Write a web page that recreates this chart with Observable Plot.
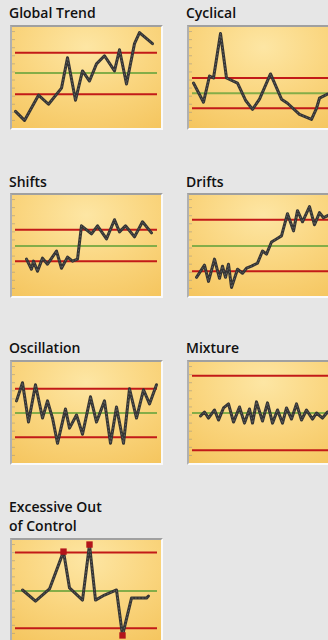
<!DOCTYPE html>
<html><head><meta charset="utf-8">
<script src="https://cdn.jsdelivr.net/npm/d3@7"></script>
<script src="https://cdn.jsdelivr.net/npm/@observablehq/plot@0.6"></script>
<style>
html,body{margin:0;padding:0;width:328px;height:640px;overflow:hidden;background:#e6e6e6;}
body{position:relative;font-family:"Open Sans",sans-serif;}
.title{position:absolute;font-size:14px;font-weight:600;color:#111;line-height:19px;white-space:nowrap;}
.panel{position:absolute;width:149px;height:101px;border-style:solid;border-width:2px;border-color:#a0a0a0 #fafafa #fafafa #b0b0b0;
background:radial-gradient(ellipse 85% 95% at 50% 20%, #fde6a4 0%, #fad680 50%, #f5c660 100%);}
.panel svg{display:block;}
</style>
</head><body>
<script>
// ---- data ----
const titles = ["Global Trend", "Cyclical", "Shifts", "Drifts", "Oscillation", "Mixture", "Excessive Out\nof Control"];

const globalX = [3,12,26,36,49,55,63,70,77,84,92,102,107,114,122,127,140];
const globalY = [17,8,33,24,40,70,28,57,47,64,72,57,78,44,84,95,84];
const globalLimits = [75,55,34];

const cyclicalX = [4,14,20,24,31,37,48,56,63,70,81,92,98,110,122,127,130,138,144,148];
const cyclicalY = [45,26,52,50,94,50,45,28,19,29,54,29,25,14,9,20,30,34,36,33];
const cyclicalLimits = [50,35,20];

const shiftsX = [14,19,21,25,30,35,44,49,55,60,65,69,74,79,85,94,102,107,113,122,130,139];
const shiftsY = [37,27,35,25,38,32,45,28,39,35,37,70,66,62,70,57,76,64,70,59,74,63];
const shiftsLimits = [66,50,35];

const driftsX = [7,15,19,25,30,33,36,39,42,48,53,57,62,68,73,77,82,87,92,98,104,108,113,120,125,130,134,138,145];
const driftsY = [19,31,15,37,18,30,19,32,9,27,23,28,30,33,45,42,54,57,60,82,65,85,74,89,71,83,78,80,84];
const driftsLimits = [76,50,25];

const oscX = [4,10,16,23,30,35,40,45,53,57,64,70,78,84,92,98,104,111,117,124,131,137,144];
const oscY = [62,80,41,78,45,62,45,20,54,35,48,29,66,41,62,20,56,20,74,45,73,59,78];
const oscLimits = [74,50,26];

const mixX = [11,15,19,25,29,34,39,44,50,55,60,63,67,73,78,83,88,93,97,102,107,112,117,123,127,133,138,144];
const mixY = [47,51,45,53,43,55,59,41,56,40,54,40,61,42,60,40,53,40,55,44,59,43,53,44,50,45,51,47];
const mixLimits = [87,50,13];

const excX = [10,23,37,51,57,70,77,83,92,104,110,119,134,136];
const excY = [51,40,52,89,53,41,96,41,46,51,6,43,43,45];
const excLimits = [88,50,13];

// only the last chart flags its out-of-control points
const flagged = [false, false, false, false, false, false, true];

const yTicks = d3.range(0, 101, 8);

// ---- layout ----
const series = [
  [globalX, globalY, globalLimits],
  [cyclicalX, cyclicalY, cyclicalLimits],
  [shiftsX, shiftsY, shiftsLimits],
  [driftsX, driftsY, driftsLimits],
  [oscX, oscY, oscLimits],
  [mixX, mixY, mixLimits],
  [excX, excY, excLimits]
];
const colLeft = [10, 187];
const panelTop = [25, 193, 360, 538];
const titleTop = [3, 172, 338, 497];

series.forEach(([xs, ys, lim], i) => {
  const col = i % 2, row = Math.floor(i / 2);
  const t = document.createElement("div");
  t.className = "title";
  t.style.left = (colLeft[col] - 1) + "px";
  t.style.top = titleTop[row] + "px";
  titles[i].split("\n").forEach((s, k) => {
    if (k) t.appendChild(document.createElement("br"));
    t.appendChild(document.createTextNode(s));
  });
  document.body.appendChild(t);

  const data = xs.map((x, k) => ({x, y: ys[k]}));
  const [ucl, cl, lcl] = lim;
  const out = flagged[i] ? data.filter(d => d.y > ucl || d.y < lcl) : [];
  const W = 149, H = 101;
  const chart = Plot.plot({
    width: W, height: H, margin: 0,
    x: {domain: [0, W], axis: null},
    y: {domain: [0, 100], axis: null},
    style: {background: "transparent", overflow: "hidden"},
    marks: [
      Plot.ruleY(yTicks, {stroke: "#8a8a8a", strokeOpacity: 0.45, insetRight: W - 3}),
      Plot.ruleY([ucl, lcl], {stroke: "#c21a18", strokeWidth: 2, insetLeft: 3, insetRight: 4}),
      Plot.ruleY([cl], {stroke: "#84ad48", strokeWidth: 2, insetLeft: 3, insetRight: 4}),
      Plot.line(data, {x: "x", y: "y", stroke: "#343434", strokeWidth: 3, strokeLinejoin: "round", strokeLinecap: "round"}),
      Plot.line(data, {x: "x", y: "y", stroke: "#6a6a6a", strokeWidth: 0.8, strokeDasharray: "1,2.5", strokeLinejoin: "round"}),
      Plot.dot(out, {x: "x", y: "y", symbol: "square", fill: "#b3141a", r: 3.6})
    ]
  });
  const p = document.createElement("div");
  p.className = "panel";
  p.style.left = colLeft[col] + "px";
  p.style.top = panelTop[row] + "px";
  p.appendChild(chart);
  document.body.appendChild(p);
});
</script>
</body></html>
